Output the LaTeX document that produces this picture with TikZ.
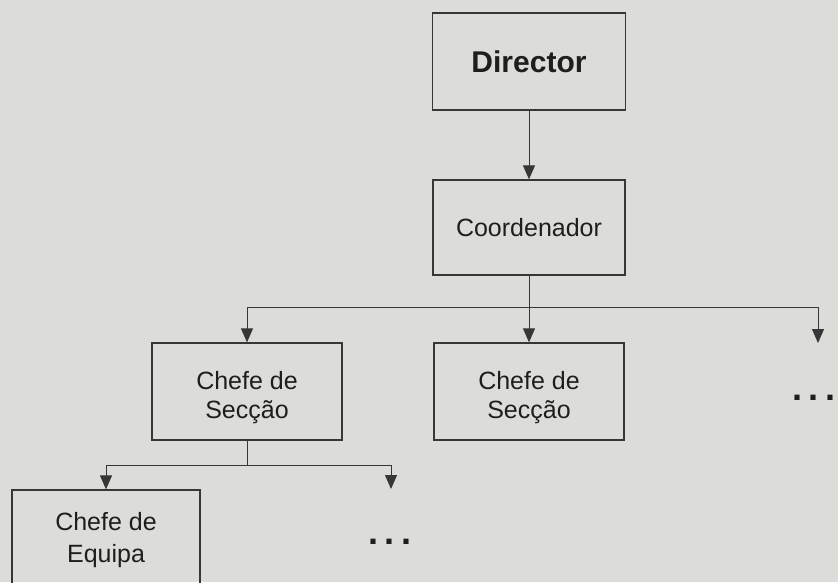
\documentclass[tikz,border=0pt]{standalone}
\usepackage{fontspec}
\setmainfont{Liberation Sans}
\usetikzlibrary{arrows.meta}
\definecolor{bg}{RGB}{220,220,217}
\definecolor{ink}{RGB}{30,30,30}
\definecolor{edge}{RGB}{55,55,55}
\begin{document}
\begin{tikzpicture}[x=1pt,y=-1pt,
  box/.style={draw=edge, line width=1.3pt, text=ink, align=center, inner sep=0pt},
  link/.style={draw=edge, line width=1pt},
  conn/.style={draw=edge, line width=1pt, -{Triangle[width=12pt,length=14pt]}},
  dotstext/.style={text=ink, font=\bfseries\fontsize{36}{40}\selectfont, inner sep=0pt}
]
\fill[bg] (0,0) rectangle (838,582);
\useasboundingbox (0,0) rectangle (838,582);

\node[box, minimum width=193pt, minimum height=97pt, font=\bfseries\fontsize{30}{34}\selectfont] (dir) at (529,61.5) {Director};
\node[box, minimum width=192pt, minimum height=95pt, font=\fontsize{25}{28}\selectfont] (coord) at (529,227.5) {Coordenador};
\node[box, minimum width=190pt, minimum height=97pt, font=\fontsize{25}{30}\selectfont] (s1) at (247,391.5) {\raisebox{-12.5pt}[0pt][0pt]{\begin{tabular}{@{}c@{}}Chefe de\\[-1pt]Secção\end{tabular}}};
\node[box, minimum width=190pt, minimum height=97pt, font=\fontsize{25}{30}\selectfont] (s2) at (529,391.5) {\raisebox{-12.5pt}[0pt][0pt]{\begin{tabular}{@{}c@{}}Chefe de\\[-1pt]Secção\end{tabular}}};
\node[box, minimum width=188pt, minimum height=110pt, font=\fontsize{25}{30}\selectfont] (eq) at (106,545) {\raisebox{-1.5pt}[0pt][0pt]{\begin{tabular}{@{}c@{}}Chefe de\\[2pt]Equipa\end{tabular}}};

\node[dotstext] (d1) at (814,398) {.\kern7pt.\kern7pt.};
\node[dotstext] (d2) at (390,542) {.\kern7pt.\kern7pt.};

\draw[conn] (dir.south) -- (coord.north);

\coordinate (h) at (529,307);
\coordinate (hl) at (247,307);
\coordinate (hr) at (818,307);
\coordinate (rend) at (818,343);
\draw[link] (coord.south) -- (h);
\draw[link] (hl) -- (hr);
\draw[conn] (hl) -- (s1.north);
\draw[conn] (h) -- (s2.north);
\draw[conn] (hr) -- (rend);

\coordinate (m) at (247,465);
\coordinate (ml) at (106,465);
\coordinate (mr) at (391,465);
\coordinate (mend) at (391,489);
\draw[link] (s1.south) -- (m);
\draw[link] (ml) -- (mr);
\draw[conn] (ml) -- (eq.north);
\draw[conn] (mr) -- (mend);
\end{tikzpicture}
\end{document}
